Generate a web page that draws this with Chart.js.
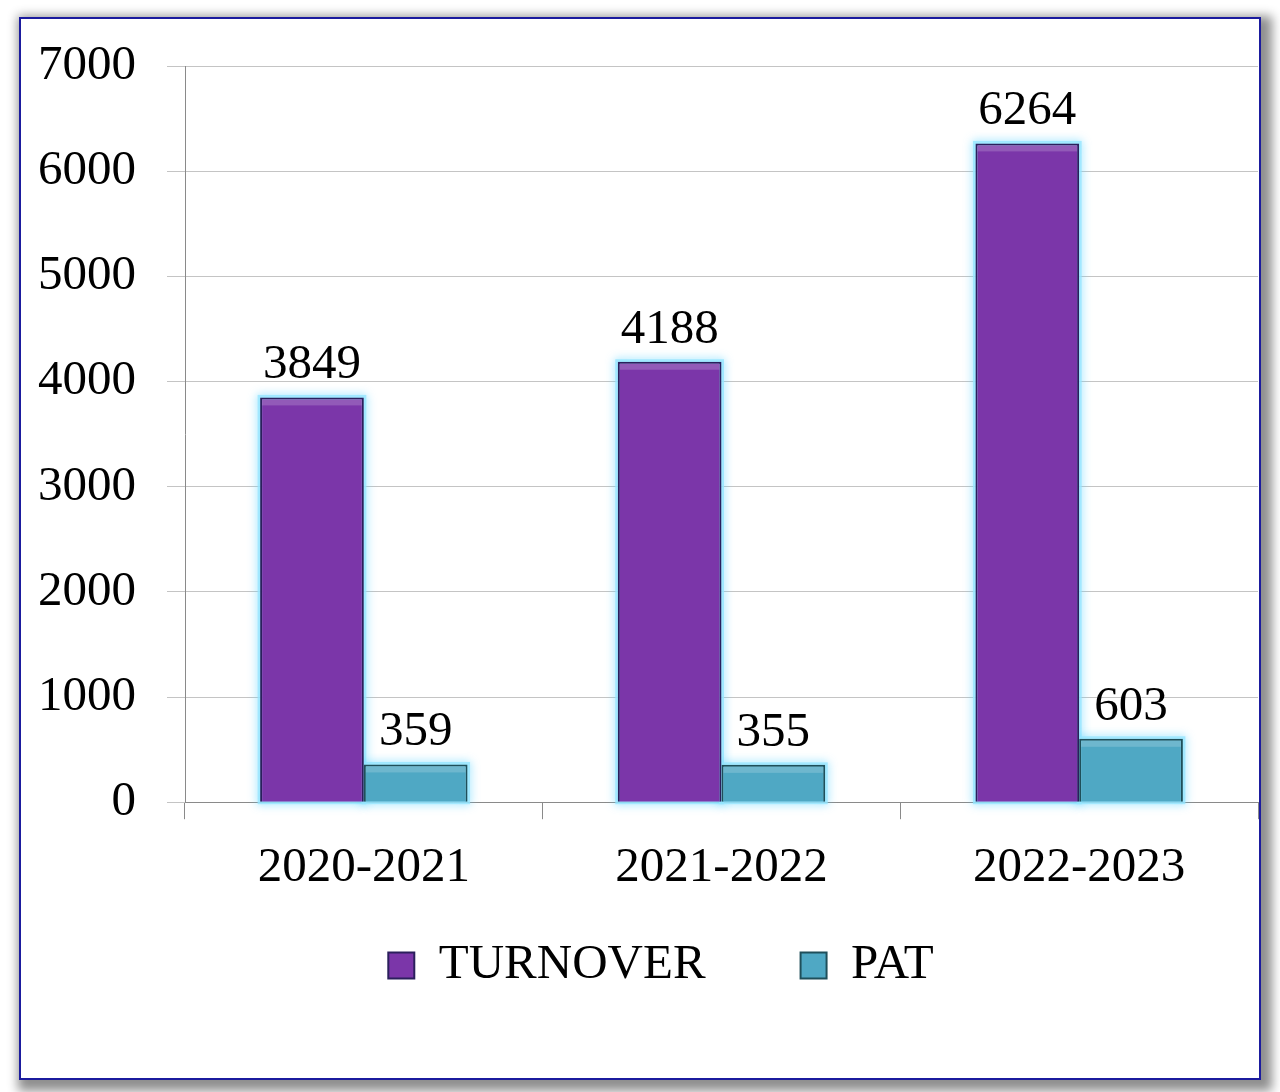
<!DOCTYPE html>
<html lang="en">
<head>
    <meta charset="UTF-8">
    <title>Turnover and PAT</title>
    <script src="https://cdn.jsdelivr.net/npm/chart.js@4.4.1/dist/chart.umd.min.js"></script>
    <style>
        body {
            margin: 0;
            background: #ffffff;
            width: 1280px;
            height: 1092px;
            overflow: hidden;
            position: relative;
        }
        .frame {
            position: absolute;
            left: 19px;
            top: 17px;
            width: 1238px;
            height: 1059px;
            border: 2px solid #1b1b9e;
            box-shadow: 5px 5px 10px 6px #8f8f8f;
            background: #ffffff;
        }
        #chart {
            position: absolute;
            left: 0;
            top: 0;
        }
    </style>
</head>
<body>
    <div class="frame"></div>
    <canvas id="chart" width="1280" height="1092"></canvas>

    <script>
        const categories = ['2020-2021', '2021-2022', '2022-2023'];
        const turnover = [3849, 4188, 6264];
        const pat = [359, 355, 603];
        const seriesNames = ['TURNOVER', 'PAT'];

        const fontFamily = '"Liberation Serif", "DejaVu Serif", serif';

        // soft cyan glow behind each bar
        const glowPlugin = {
            id: 'glow',
            beforeDatasetsDraw(chart) {
                const ctx = chart.ctx;
                ctx.save();
                ctx.shadowColor = 'rgba(90, 210, 255, 0.9)';
                ctx.shadowBlur = 10;
                ctx.strokeStyle = 'rgba(150, 230, 255, 0.8)';
                ctx.lineWidth = 5;
                chart.data.datasets.forEach((ds, i) => {
                    chart.getDatasetMeta(i).data.forEach((bar) => {
                        const p = bar.getProps(['x', 'y', 'base', 'width'], true);
                        ctx.strokeRect(p.x - p.width / 2, p.y, p.width, p.base - p.y);
                    });
                });
                ctx.restore();
            },
            afterDatasetsDraw(chart) {
                // light bevel along the top edge
                const ctx = chart.ctx;
                ctx.save();
                ctx.fillStyle = 'rgba(255, 255, 255, 0.18)';
                chart.data.datasets.forEach((ds, i) => {
                    chart.getDatasetMeta(i).data.forEach((bar) => {
                        const p = bar.getProps(['x', 'y', 'base', 'width'], true);
                        ctx.fillRect(p.x - p.width / 2 + 2, p.y + 2, p.width - 4, 6);
                    });
                });
                ctx.restore();
            }
        };

        // value labels above each bar
        const valueLabels = {
            id: 'valueLabels',
            afterDatasetsDraw(chart) {
                const ctx = chart.ctx;
                ctx.save();
                ctx.font = '49px ' + fontFamily;
                ctx.fillStyle = '#000000';
                ctx.textAlign = 'center';
                ctx.textBaseline = 'alphabetic';
                chart.data.datasets.forEach((ds, i) => {
                    chart.getDatasetMeta(i).data.forEach((bar, j) => {
                        ctx.fillText(String(ds.data[j]), bar.x, bar.y - 19);
                    });
                });
                ctx.restore();
            }
        };

        // tick labels are allowed to spill out of the shrunken axis boxes
        const noLabelClip = (scale) => {
            scale._computeLabelArea = () => undefined;
        };

        new Chart(document.getElementById('chart'), {
            type: 'bar',
            data: {
                labels: categories,
                datasets: [{
                    label: seriesNames[0],
                    data: turnover,
                    backgroundColor: '#7b36a9',
                    borderColor: '#2b1f5c',
                    borderWidth: 2
                }, {
                    label: seriesNames[1],
                    data: pat,
                    backgroundColor: '#4fa8c4',
                    borderColor: '#1f4f5a',
                    borderWidth: 2
                }]
            },
            options: {
                responsive: false,
                animation: false,
                categoryPercentage: 0.58,
                barPercentage: 1.0,
                layout: {
                    padding: { left: 64, top: 66, right: 22, bottom: 92 }
                },
                plugins: {
                    tooltip: { enabled: false },
                    legend: {
                        position: 'bottom',
                        labels: {
                            color: '#000000',
                            font: { family: fontFamily, size: 49 },
                            boxWidth: 26,
                            boxHeight: 26,
                            padding: 95
                        }
                    }
                },
                scales: {
                    x: {
                        grid: {
                            drawOnChartArea: false,
                            drawTicks: true,
                            tickLength: 17,
                            color: '#8a8a8a'
                        },
                        border: { display: true, color: '#8a8a8a', width: 1 },
                        ticks: {
                            color: '#000000',
                            font: { family: fontFamily, size: 49 },
                            padding: 20
                        },
                        afterFit(scale) {
                            scale.height -= 72;
                            noLabelClip(scale);
                        }
                    },
                    y: {
                        min: 0,
                        max: 7000,
                        ticks: {
                            stepSize: 1000,
                            color: '#000000',
                            font: { family: fontFamily, size: 49 },
                            padding: 31,
                            callback: (v) => String(v)
                        },
                        grid: {
                            color: '#c4c4c4',
                            tickLength: 18,
                            drawTicks: true
                        },
                        border: { display: true, color: '#8a8a8a', width: 1 },
                        afterFit(scale) {
                            scale.width = 121;
                            noLabelClip(scale);
                        }
                    }
                }
            },
            plugins: [glowPlugin, valueLabels]
        });
    </script>
</body>
</html>
